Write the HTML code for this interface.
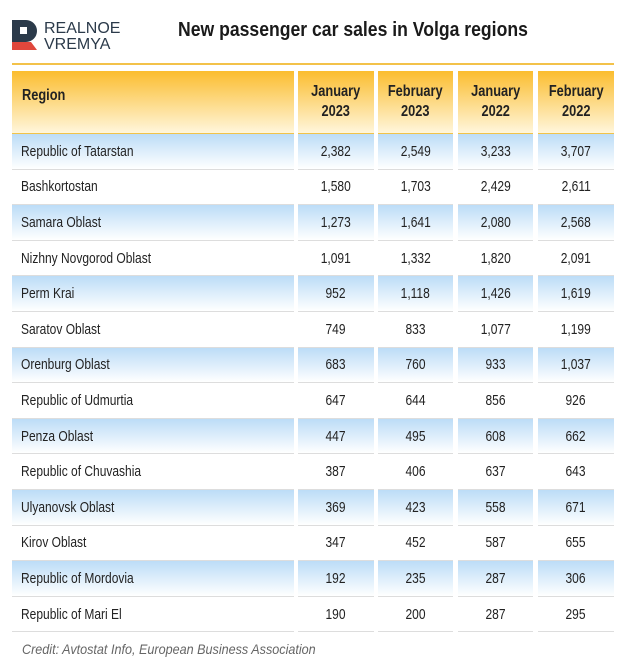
<!DOCTYPE html>
<html><head><meta charset="utf-8"><style>
*{margin:0;padding:0;box-sizing:border-box}
body{width:620px;height:667px;background:#fff;font-family:"Liberation Sans",sans-serif;color:#222;position:relative;overflow:hidden}
.logo{position:absolute;left:12px;top:18px}
.title{position:absolute;left:178px;top:19px;font-size:20px;font-weight:bold;color:#1a1a1a;transform:scaleX(0.88);transform-origin:left;white-space:nowrap}
.yline{position:absolute;left:12px;top:63px;width:602px;height:2px;background:#f3c24a}
.cell{position:absolute;display:flex;align-items:center;font-size:15px}
.cell span{display:inline-block;transform:scaleX(0.8);white-space:nowrap}
.num span{transform-origin:center}
.reg span{transform-origin:left}
.hdr{background:linear-gradient(#fbbd2f,#fff6dc);font-weight:bold;font-size:16px;line-height:20px;border-bottom:1px solid #f1c34a}
.num{justify-content:center;text-align:center}
.blue{background:linear-gradient(#bcdcf7,#ffffff)}
.row{border-bottom:1px solid #ddd}
.credit{position:absolute;left:22px;top:641px;font-size:14px;font-style:italic;color:#666;transform:scaleX(0.9);transform-origin:left;white-space:nowrap}
</style></head><body>
<svg class="logo" width="130" height="36" viewBox="0 0 130 36">
<path d="M0 2 H14 A11 11 0 0 1 14 24 H9 V30 H0 Z" fill="#2b3a4a"/>
<path d="M0 24 H19 L25 32 H0 Z" fill="#e0473c"/>
<rect x="8" y="9" width="7" height="7" fill="#fff"/>
<text x="32" y="15" font-family="Liberation Sans" font-size="16" fill="#2b3a4a">REALNOE</text>
<text x="32" y="31" font-family="Liberation Sans" font-size="16" fill="#2b3a4a">VREMYA</text>
</svg>
<div class="title">New passenger car sales in Volga regions</div>
<div class="yline"></div>
<div id="t"></div>
<div class="credit">Credit: Avtostat Info, European Business Association</div>
<script>
const cols=[[12,282],[298,76],[378,75],[458,75],[538,76]];
const hdr=["Region","January<br>2023","February<br>2023","January<br>2022","February<br>2022"];
const rows=[["Republic of Tatarstan","2,382","2,549","3,233","3,707"],["Bashkortostan","1,580","1,703","2,429","2,611"],["Samara Oblast","1,273","1,641","2,080","2,568"],["Nizhny Novgorod Oblast","1,091","1,332","1,820","2,091"],["Perm Krai","952","1,118","1,426","1,619"],["Saratov Oblast","749","833","1,077","1,199"],["Orenburg Oblast","683","760","933","1,037"],["Republic of Udmurtia","647","644","856","926"],["Penza Oblast","447","495","608","662"],["Republic of Chuvashia","387","406","637","643"],["Ulyanovsk Oblast","369","423","558","671"],["Kirov Oblast","347","452","587","655"],["Republic of Mordovia","192","235","287","306"],["Republic of Mari El","190","200","287","295"]];
let h="";
cols.forEach((c,i)=>{h+=`<div class="cell hdr ${i?'num':'reg'}" style="left:${c[0]}px;top:71px;width:${c[1]}px;height:63px;${i?'':'padding-left:10px;padding-bottom:12px'}"><span>${hdr[i]}</span></div>`});
const rh=35.6;
rows.forEach((r,j)=>{const y=134+j*rh;cols.forEach((c,i)=>{h+=`<div class="cell row ${i?'num':'reg'} ${j%2==0?'blue':''}" style="left:${c[0]}px;top:${y}px;width:${c[1]}px;height:${rh}px;${i?'':'padding-left:9px'}"><span>${r[i]}</span></div>`})});
document.getElementById('t').innerHTML=h;
</script>
</body></html>
